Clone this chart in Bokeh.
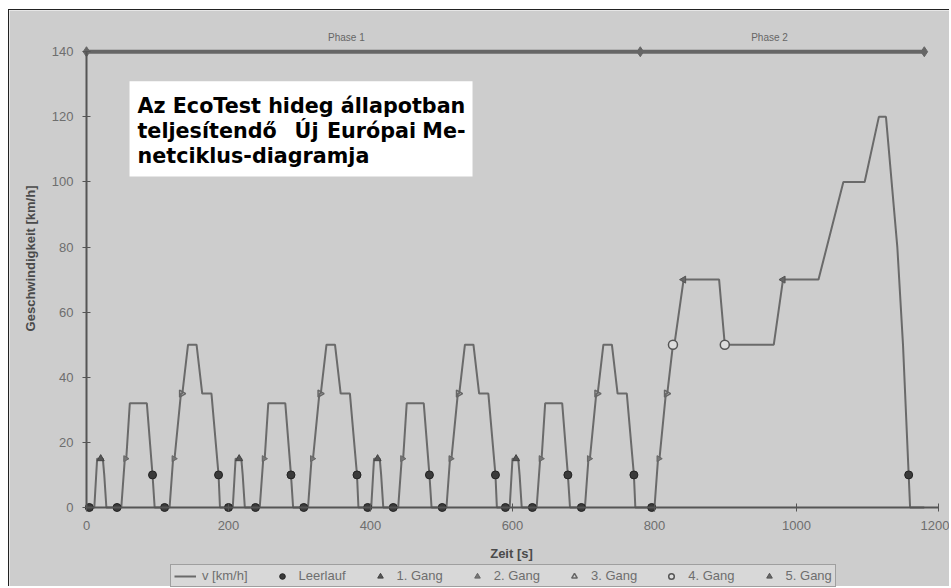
import math
from bokeh.plotting import figure
from bokeh.models import Range1d, Label, BoxAnnotation, Legend, LegendItem, FixedTicker
from bokeh.embed import file_html
from bokeh.resources import INLINE

# --- data: New European Driving Cycle (time in s, speed in km/h) ---
time_s = [
    0, 11, 15, 23, 25, 28, 49, 54, 56, 61, 85, 93, 96, 117, 122, 124, 133, 135, 143, 155, 163, 176, 186, 188,
    195, 206, 210, 218, 220, 223, 244, 249, 251, 256, 280, 288, 291, 312, 317, 319, 328, 330, 338, 350, 358, 371, 381, 383,
    390, 401, 405, 413, 415, 418, 439, 444, 446, 451, 475, 483, 486, 507, 512, 514, 523, 525, 533, 545, 553, 566, 576, 578,
    585, 596, 600, 608, 610, 613, 634, 639, 641, 646, 670, 678, 681, 702, 707, 709, 718, 720, 728, 740, 748, 761, 771, 773,
    780, 800, 805, 807, 816, 818, 826, 828, 841, 891, 899, 968, 981, 1031, 1066, 1096, 1116, 1126, 1142, 1150, 1160, 1180,
]
speed_kmh = [
    0, 0, 15, 15, 10, 0, 0, 15, 15, 32, 32, 10, 0, 0, 15, 15, 35, 35, 50, 50, 35, 35, 10, 0,
    0, 0, 15, 15, 10, 0, 0, 15, 15, 32, 32, 10, 0, 0, 15, 15, 35, 35, 50, 50, 35, 35, 10, 0,
    0, 0, 15, 15, 10, 0, 0, 15, 15, 32, 32, 10, 0, 0, 15, 15, 35, 35, 50, 50, 35, 35, 10, 0,
    0, 0, 15, 15, 10, 0, 0, 15, 15, 32, 32, 10, 0, 0, 15, 15, 35, 35, 50, 50, 35, 35, 10, 0,
    0, 0, 15, 15, 35, 35, 50, 50, 70, 70, 50, 50, 70, 70, 100, 100, 120, 120, 80, 50, 0, 0,
]

# gear markers
idle_t = [4, 43, 110, 200, 238, 306, 396, 432, 501, 590, 628, 697, 796,
          93, 186, 288, 381, 483, 576, 678, 771, 1158]
idle_v = [0, 0, 0, 0, 0, 0, 0, 0, 0, 0, 0, 0, 0,
          10, 10, 10, 10, 10, 10, 10, 10, 10]
gear1_t = [20, 215, 410, 605]
gear1_v = [15, 15, 15, 15]
gear2_t = [55, 123, 250, 318, 445, 513, 640, 708, 806]
gear2_v = [15, 15, 15, 15, 15, 15, 15, 15, 15]
gear3_t = [134, 329, 524, 719, 817]
gear3_v = [35, 35, 35, 35, 35]
gear4_t = [826, 899]
gear4_v = [50, 50]
gear5_t = [841, 981]
gear5_v = [70, 70]

phase_bounds = [0, 780, 1180]
phase_names = ["Phase 1", "Phase 2"]
phase_label_t = [366, 962]
phase_level = 140

x_ticks = [0, 200, 400, 600, 800, 1000, 1200]
y_ticks = [0, 20, 40, 60, 80, 100, 120, 140]
x_title = "Zeit [s]"
y_title = "Geschwindigkeit [km/h]"

title_lines = ["Az EcoTest hideg állapotban", "teljesítendő Új Európai Me-", "netciklus-diagramja"]

BG = "#cdcdcd"
LINE = "#6a6a6a"
TXT = "#6e6e6e"

p = figure(width=941, height=577, output_backend="svg", toolbar_location=None,
           x_range=Range1d(-108.45, 1216.9), y_range=Range1d(-24.58, 152.67),
           min_border_left=0, min_border_right=0, min_border_top=0, min_border_bottom=0)
p.background_fill_color = BG
p.border_fill_color = BG
p.outline_line_color = None
p.styles = {"margin-left": "8px", "margin-top": "9px",
            "border-left": "1px solid #222", "border-top": "1px solid #222"}

p.xgrid.grid_line_color = None
p.ygrid.grid_line_color = None

for ax in (p.xaxis[0], p.yaxis[0]):
    ax.axis_line_color = "#555555"
    ax.axis_line_width = 2
    ax.major_tick_line_color = "#555555"
    ax.major_tick_in = 4
    ax.major_tick_out = 4
    ax.minor_tick_line_color = None
    ax.major_label_text_font = "Liberation Sans"
    ax.major_label_text_font_size = "13px"
    ax.major_label_text_color = TXT

p.xaxis.ticker = FixedTicker(ticks=x_ticks)
p.yaxis.ticker = FixedTicker(ticks=y_ticks)
p.xaxis.fixed_location = 0
p.yaxis.fixed_location = 0
p.xaxis.bounds = (0, 1200)
p.yaxis.bounds = (0, 140)
p.xaxis.major_label_standoff = 10
p.yaxis.major_label_standoff = 9

# axis titles (placed as labels for exact position)
p.add_layout(Label(x=598.6, y=-14.1, text=x_title, text_align="center", text_baseline="middle",
                   text_font="Liberation Sans", text_font_style="bold", text_font_size="13px",
                   text_color="#4a4a4a"))
p.add_layout(Label(x=-78.9, y=76.5, text=y_title, angle=math.pi / 2, text_align="center",
                   text_baseline="middle", text_font="Liberation Sans", text_font_style="bold",
                   text_font_size="13px", text_color="#4a4a4a"))

# phase bar
p.line([phase_bounds[0], phase_bounds[-1]], [phase_level, phase_level], line_color="#666666", line_width=4)
p.scatter(phase_bounds, [phase_level] * len(phase_bounds), marker="diamond", size=10,
          fill_color="#666666", line_color="#666666")
for name, t in zip(phase_names, phase_label_t):
    p.add_layout(Label(x=t, y=phase_level, y_offset=9, text=name, text_align="center",
                       text_baseline="bottom", text_font="Liberation Sans", text_font_size="10px",
                       text_color="#666666"))

# speed curve
r_line = p.line(time_s, speed_kmh, line_color=LINE, line_width=2)

r_idle = p.scatter(idle_t, idle_v, marker="circle", size=8, fill_color="#3a3a3a", line_color="#222222")
r_g1 = p.scatter(gear1_t, gear1_v, marker="triangle", size=7, fill_color="#555555", line_color="#444444")
r_g2 = p.scatter(gear2_t, gear2_v, marker="triangle", angle=-math.pi / 2, size=6,
                 fill_color="#777777", line_color="#666666")
r_g3 = p.scatter(gear3_t, gear3_v, marker="triangle", angle=-math.pi / 2, size=7,
                 fill_color=None, line_color="#666666", line_width=1.5)
r_g4 = p.scatter(gear4_t, gear4_v, marker="circle", size=9, fill_color="#dddddd", line_color="#555555",
                 line_width=1.5)
r_g5 = p.scatter(gear5_t, gear5_v, marker="triangle", angle=math.pi / 2, size=7,
                 fill_color="#666666", line_color="#555555")

legend = Legend(items=[
    LegendItem(label="v [km/h]", renderers=[r_line]),
    LegendItem(label="Leerlauf", renderers=[r_idle]),
    LegendItem(label="1. Gang", renderers=[r_g1]),
    LegendItem(label="2. Gang", renderers=[r_g2]),
    LegendItem(label="3. Gang", renderers=[r_g3]),
    LegendItem(label="4. Gang", renderers=[r_g4]),
    LegendItem(label="5. Gang", renderers=[r_g5]),
], location=(161, 0), orientation="horizontal")
legend.label_text_font = "Liberation Sans"
legend.label_text_font_size = "13px"
legend.label_text_color = TXT
legend.label_height = 14
legend.glyph_width = 22
legend.glyph_height = 14
legend.label_standoff = 6
legend.spacing = 23
legend.padding = 3
legend.margin = 0
legend.border_line_color = "#666666"
legend.border_line_width = 1.5
legend.background_fill_color = "#d8d8d8"
legend.background_fill_alpha = 1
p.add_layout(legend)

# title box
p.add_layout(BoxAnnotation(left=60.6, right=543.7, top=130.9, bottom=101.7,
                           fill_color="white", fill_alpha=1, line_color=None, level="annotation"))
TF = "DejaVu Sans"
TS = "20.7px"


def title_label(x, y, text, align="left"):
    p.add_layout(Label(x=x, y=y, text=text, text_font=TF, text_font_style="bold",
                       text_font_size=TS, text_color="black", text_baseline="alphabetic",
                       text_align=align, level="overlay"))


w2 = title_lines[1].split(" ")
title_label(71.8, 123.2, title_lines[0])
title_label(71.8, 115.5, w2[0])
title_label(309.9, 115.5, w2[1], "center")
title_label(401.4, 115.5, w2[2], "center")
title_label(533.8, 115.5, w2[3], "right")
title_label(71.8, 108.1, title_lines[2])

open("out.html", "w").write(file_html(p, INLINE))
